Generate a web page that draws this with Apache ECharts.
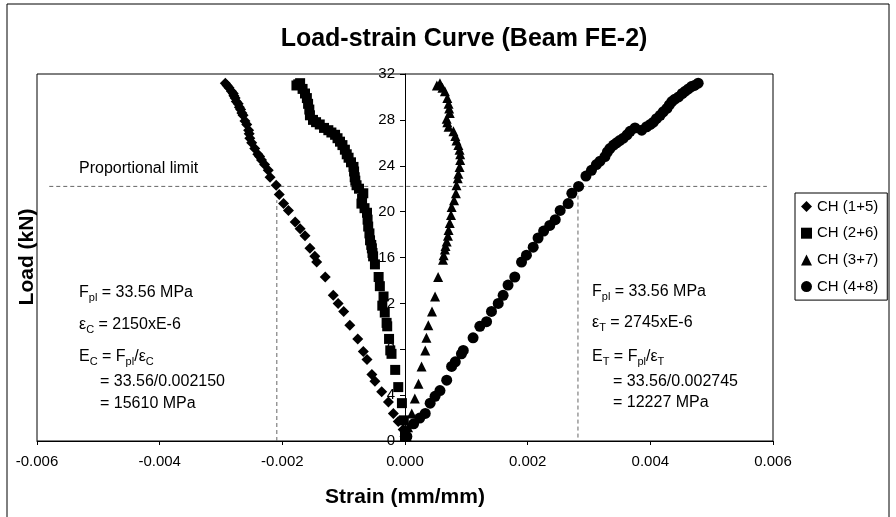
<!DOCTYPE html>
<html>
<head>
<meta charset="utf-8">
<script src="https://cdn.jsdelivr.net/npm/echarts@6/dist/echarts.min.js"></script>
<style>
html, body { margin: 0; padding: 0; background: #fff; }
#chart { width: 896px; height: 517px; }
</style>
</head>
<body>
<div id="chart"></div>
<script>
// strain (mm/mm) and load (kN), bottom to top
var ch15Strain = [0, -0.00003, -0.00011, -0.00019, -0.00027, -0.00038, -0.00049, -0.00054, -0.00062, -0.00068,
	-0.00077, -0.00090, -0.00100, -0.00109, -0.00117, -0.00130, -0.00144, -0.00147, -0.00155, -0.00163,
	-0.00171, -0.00179, -0.00190, -0.00198, -0.00205, -0.00210, -0.00220, -0.00223, -0.00229, -0.00234,
	-0.00237, -0.00240, -0.00245, -0.00250, -0.00253, -0.00254, -0.00255, -0.00258, -0.00261, -0.00264,
	-0.00266, -0.00268, -0.00270, -0.00272, -0.00275, -0.00277, -0.00279, -0.00280, -0.00283, -0.00287,
	-0.00290, -0.00293];
var ch15Load = [0.4, 1.0, 1.7, 2.4, 3.4, 4.3, 5.2, 5.8, 7.1, 7.8,
	8.9, 10.1, 11.3, 12.0, 12.7, 14.3, 15.6, 16.1, 16.8, 17.9,
	18.5, 19.1, 20.1, 20.7, 21.5, 22.3, 23.0, 23.6, 24.1, 24.5,
	24.8, 25.0, 25.5, 26.0, 26.4, 26.8, 27.1, 27.6, 27.9, 28.4,
	28.6, 28.9, 29.1, 29.4, 29.6, 29.9, 30.1, 30.3, 30.5, 30.8,
	31.0, 31.2];

var ch26Strain = [0, -0.00002, -0.00005, -0.00011, -0.00016, -0.00022, -0.00024, -0.00026, -0.00029, -0.00030,
	-0.00033, -0.00037, -0.00035, -0.00041, -0.00043, -0.00049, -0.00052, -0.00053, -0.00054, -0.00055,
	-0.00057, -0.00058, -0.00060, -0.00061, -0.00062, -0.00066, -0.00071, -0.00070, -0.00068, -0.00075,
	-0.00079, -0.00082, -0.00081, -0.00083, -0.00084, -0.00088, -0.00092, -0.00095, -0.00098, -0.00102,
	-0.00106, -0.00110, -0.00114, -0.00120, -0.00125, -0.00132, -0.00139, -0.00145, -0.00150, -0.00155,
	-0.00156, -0.00158, -0.00160, -0.00163, -0.00167, -0.00171, -0.00174, -0.00177];
var ch26Load = [0.4, 1.8, 3.3, 4.7, 6.2, 7.6, 7.9, 8.9, 10.0, 10.3,
	11.2, 11.8, 12.6, 13.5, 14.3, 15.4, 16.1, 16.4, 16.8, 17.1,
	17.5, 18.1, 18.7, 19.3, 19.9, 20.3, 20.7, 21.1, 21.6, 22.0,
	22.3, 23.0, 22.7, 23.5, 23.9, 24.3, 24.7, 25.0, 25.4, 25.8,
	26.1, 26.4, 26.7, 26.9, 27.1, 27.3, 27.6, 27.8, 28.0, 28.4,
	28.9, 29.4, 29.9, 30.3, 30.7, 31.2, 31.1, 31.0];

var ch37Strain = [0.00003, 0.00005, 0.00011, 0.00016, 0.00022, 0.00027, 0.00033, 0.00035, 0.00038, 0.00044,
	0.00049, 0.00054, 0.00062, 0.00063, 0.00065, 0.00066, 0.00068, 0.00070, 0.00071, 0.00073,
	0.00075, 0.00076, 0.00080, 0.00083, 0.00084, 0.00086, 0.00087, 0.00089, 0.00090, 0.00090,
	0.00089, 0.00087, 0.00084, 0.00082, 0.00079, 0.00071, 0.00069, 0.00068, 0.00073, 0.00072,
	0.00071, 0.00069, 0.00065, 0.00061, 0.00057, 0.00052];
var ch37Load = [0.4, 1.2, 2.4, 3.7, 5.0, 6.5, 7.9, 9.0, 10.1, 11.3,
	12.6, 14.3, 15.8, 16.2, 16.7, 17.0, 17.4, 17.9, 18.4, 19.0,
	19.7, 20.4, 21.0, 21.6, 22.3, 22.9, 23.3, 23.9, 24.5, 25.0,
	25.4, 25.8, 26.2, 26.6, 27.0, 27.4, 27.8, 28.1, 28.6, 29.0,
	29.4, 29.9, 30.5, 30.8, 31.2, 31.0];

var ch48Strain = [0.00003, 0.00014, 0.00024, 0.00033, 0.00041, 0.00049, 0.00057, 0.00068, 0.00076, 0.00082,
	0.00092, 0.00095, 0.00111, 0.00122, 0.00133, 0.00141, 0.00152, 0.00160, 0.00168, 0.00179,
	0.00190, 0.00198, 0.00209, 0.00217, 0.00226, 0.00236, 0.00245, 0.00253, 0.00266, 0.00272,
	0.00283, 0.00295, 0.00304, 0.00312, 0.00318, 0.00326, 0.00330, 0.00334, 0.00340, 0.00345,
	0.00350, 0.00356, 0.00362, 0.00367, 0.00375, 0.00386, 0.00394, 0.00400, 0.00405, 0.00410,
	0.00416, 0.00421, 0.00427, 0.00431, 0.00435, 0.00440, 0.00446, 0.00452, 0.00457, 0.00462,
	0.00467, 0.00472, 0.00478];
var ch48Load = [0.4, 1.5, 2.0, 2.4, 3.3, 3.9, 4.4, 5.3, 6.5, 6.9,
	7.6, 7.9, 9.0, 10.0, 10.4, 11.3, 12.0, 12.7, 13.6, 14.3,
	15.6, 16.2, 16.9, 17.7, 18.3, 18.8, 19.3, 20.1, 20.7, 21.6,
	22.2, 23.1, 23.6, 24.1, 24.4, 24.8, 25.2, 25.5, 25.8, 26.0,
	26.2, 26.4, 26.7, 27.0, 27.3, 27.1, 27.4, 27.6, 27.8, 28.1,
	28.4, 28.7, 29.0, 29.3, 29.6, 29.8, 30.0, 30.3, 30.5, 30.7,
	30.9, 31.0, 31.2];

var seriesNames = ['CH (1+5)', 'CH (2+6)', 'CH (3+7)', 'CH (4+8)'];

// proportional limit guide lines
var limitLine = [[-0.0058, 22.2], [0.0059, 22.2]];
var compLine = [[-0.00209, 0], [-0.00209, 21.0]];
var tensLine = [[0.00282, 0.3], [0.00282, 21.7]];

var xTicks = { min: -0.006, max: 0.006, step: 0.002 };
var yTicks = { min: 0, max: 32, step: 4 };

var FONT = 'Arial, "Liberation Sans", sans-serif';

function zip(xs, ys){
	var out = [];
	for(var i=0; i<xs.length; i++){
		out.push([xs[i], ys[i]]);
	}
	return out;
}

function scatter(name, symbol, size, xs, ys){
	return {
		name: name,
		type: 'scatter',
		symbol: symbol,
		symbolSize: size,
		itemStyle: { color: '#000', opacity: 1 },
		data: zip(xs, ys),
		z: 3
	};
}

function guide(data){
	return {
		type: 'line',
		data: data,
		symbol: 'none',
		silent: true,
		lineStyle: { color: '#666', width: 1, type: [4, 3] },
		z: 2
	};
}

var rich = {
	n: { fontSize: 16, fontFamily: FONT, lineHeight: 20, color: '#000' },
	s: { fontSize: 11, fontFamily: FONT, lineHeight: 10, verticalAlign: 'bottom', color: '#000' }
};

function note(x, y, text){
	return {
		type: 'text',
		x: x,
		y: y,
		style: {
			text: text,
			rich: rich,
			fill: '#000',
			fontSize: 16,
			fontFamily: FONT,
			align: 'left',
			verticalAlign: 'middle',
			textAlign: 'left',
			textVerticalAlign: 'middle'
		}
	};
}

var chart = echarts.init(document.getElementById('chart'));

var option = {
	backgroundColor: '#fff',
	animation: false,
	title: {
		text: 'Load-strain Curve (Beam FE-2)',
		left: 459,
		top: 22,
		textAlign: 'center',
		textStyle: { fontFamily: FONT, fontSize: 25, fontWeight: 'bold', color: '#000' }
	},
	legend: {
		data: seriesNames,
		orient: 'vertical',
		left: 795,
		top: 193,
		padding: [6, 9, 6, 6],
		itemGap: 11.7,
		itemWidth: 11,
		itemHeight: 11,
		borderColor: '#000',
		borderWidth: 1,
		backgroundColor: '#fff',
		textStyle: { fontFamily: FONT, fontSize: 15, color: '#000' }
	},
	grid: {
		left: 37,
		right: 123,
		top: 74,
		bottom: 76,
		show: true,
		borderColor: '#000',
		borderWidth: 1,
		backgroundColor: '#fff'
	},
	xAxis: {
		type: 'value',
		min: xTicks.min,
		max: xTicks.max,
		interval: xTicks.step,
		name: 'Strain (mm/mm)',
		nameLocation: 'middle',
		nameGap: 46,
		nameTextStyle: { fontFamily: FONT, fontSize: 21, fontWeight: 'bold', color: '#000' },
		splitLine: { show: false },
		axisLine: { lineStyle: { color: '#000', width: 1 } },
		axisTick: { show: true, length: 4, lineStyle: { color: '#000' } },
		axisLabel: {
			margin: 13,
			fontFamily: FONT,
			fontSize: 15,
			color: '#000',
			formatter: function(v){ return v.toFixed(3); }
		}
	},
	yAxis: {
		type: 'value',
		position: 'left',
		// shift the axis from the grid's left edge to strain = 0
		offset: -368,
		min: yTicks.min,
		max: yTicks.max,
		interval: yTicks.step,
		splitLine: { show: false },
		axisLine: { onZero: false, lineStyle: { color: '#000', width: 1 } },
		axisTick: { show: true, length: 5, lineStyle: { color: '#000' } },
		axisLabel: { margin: 10, fontFamily: FONT, fontSize: 15, color: '#000' }
	},
	graphic: [
		{
			type: 'rect',
			shape: { x: 7, y: 4, width: 882, height: 530 },
			style: { fill: 'none', stroke: '#000', lineWidth: 1 },
			silent: true,
			z: -10
		},
		{
			type: 'text',
			x: 27,
			y: 257,
			rotation: Math.PI / 2,
			style: {
				text: 'Load (kN)',
				fill: '#000',
				fontFamily: FONT,
				fontSize: 21,
				fontWeight: 'bold',
				align: 'center',
				verticalAlign: 'middle',
				textAlign: 'center',
				textVerticalAlign: 'middle'
			}
		},
		{
			type: 'text',
			x: 79,
			y: 169,
			style: {
				text: 'Proportional limit',
				fill: '#000',
				fontFamily: FONT,
				fontSize: 16,
				align: 'left',
				verticalAlign: 'middle',
				textAlign: 'left',
				textVerticalAlign: 'middle'
			}
		},
		note(79, 293, '{n|F}{s|pl}{n| = 33.56 MPa}'),
		note(79, 325, '{n|ε}{s|C}{n| = 2150xE-6}'),
		note(79, 357, '{n|E}{s|C}{n| = F}{s|pl}{n|/ε}{s|C}'),
		note(100, 382, '{n|= 33.56/0.002150}'),
		note(100, 404, '{n|= 15610 MPa}'),
		note(592, 292, '{n|F}{s|pl}{n| = 33.56 MPa}'),
		note(592, 323, '{n|ε}{s|T}{n| = 2745xE-6}'),
		note(592, 357, '{n|E}{s|T}{n| = F}{s|pl}{n|/ε}{s|T}'),
		note(613, 382, '{n|= 33.56/0.002745}'),
		note(613, 403, '{n|= 12227 MPa}')
	],
	series: [
		guide(limitLine),
		guide(compLine),
		guide(tensLine),
		scatter(seriesNames[0], 'diamond', 11, ch15Strain, ch15Load),
		scatter(seriesNames[1], 'rect', 10, ch26Strain, ch26Load),
		scatter(seriesNames[2], 'triangle', 10, ch37Strain, ch37Load),
		scatter(seriesNames[3], 'circle', 11, ch48Strain, ch48Load)
	]
};

chart.setOption(option);
</script>
</body>
</html>
